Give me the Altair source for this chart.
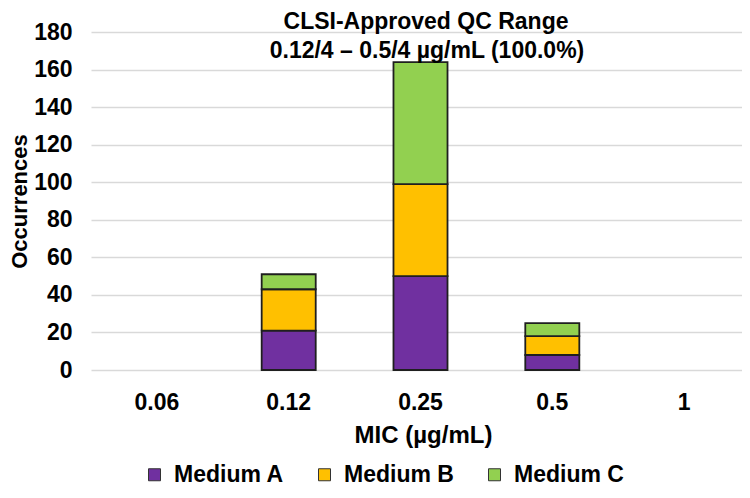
import altair as alt
import pandas as pd

mic = ["0.06", "0.12", "0.25", "0.5", "1"]
media = ["Medium A", "Medium B", "Medium C"]
medium_a = [0, 21, 50, 8, 0]
medium_b = [0, 22, 49, 10, 0]
medium_c = [0, 8, 65, 7, 0]
colors = ["#7030A0", "#FFC000", "#92D050"]
title_lines = ["CLSI-Approved QC Range", "0.12/4 – 0.5/4 µg/mL (100.0%)"]

rows = []
for i, (series, vals) in enumerate(zip(media, [medium_a, medium_b, medium_c])):
    for m, v in zip(mic, vals):
        if v > 0:
            rows.append({"MIC": m, "Medium": series, "Count": v, "order": i})
df = pd.DataFrame(rows)

FONT = "Liberation Sans"

bars = alt.Chart(df).mark_bar(stroke="#1f1f1f", strokeWidth=1.8).encode(
    x=alt.X(
        "MIC:N",
        sort=mic,
        scale=alt.Scale(domain=mic, range=[0, 659], paddingInner=0.59, paddingOuter=0.295),
        axis=alt.Axis(
            title="MIC (µg/mL)", labelAngle=0, grid=False, domain=False, ticks=False,
            labelPadding=21, labelFontSize=23, labelFontWeight="bold", labelFont=FONT,
            labelColor="#000000", titleFontSize=24, titleFontWeight="bold", titleFont=FONT,
            titleColor="#000000", titlePadding=9, titleX=332,
        ),
    ),
    y=alt.Y(
        "Count:Q",
        scale=alt.Scale(domain=[0, 180]),
        axis=alt.Axis(
            title="Occurrences", values=list(range(0, 181, 20)), grid=True,
            gridColor="#D9D9D9", gridWidth=1.6, domain=False, ticks=False,
            labelPadding=19, labelFontSize=23, labelFontWeight="bold", labelFont=FONT,
            labelColor="#000000", titleFontSize=22, titleFontWeight="bold", titleFont=FONT,
            titleColor="#000000", titlePadding=2,
        ),
    ),
    color=alt.Color(
        "Medium:N",
        scale=alt.Scale(domain=media, range=colors),
        legend=alt.Legend(
            title=None, orient="none", legendX=52, legendY=431, direction="horizontal",
            symbolType="square", symbolSize=144, symbolStrokeColor="#333333",
            symbolStrokeWidth=1, symbolOpacity=1, labelFontSize=23, labelFontWeight="bold",
            labelFont=FONT, labelColor="#000000", columnPadding=29, labelOffset=8,
        ),
    ),
    order=alt.Order("order:Q", sort="ascending"),
)

title_df = pd.DataFrame({"line": title_lines})

title1 = alt.Chart(title_df).transform_filter(
    alt.datum.line == title_lines[0]
).mark_text(
    font=FONT, fontSize=23, fontWeight="bold", color="#000000",
    align="center", baseline="alphabetic",
).encode(text="line:N", x=alt.value(335), y=alt.value(-3))

title2 = alt.Chart(title_df).transform_filter(
    alt.datum.line == title_lines[1]
).mark_text(
    font=FONT, fontSize=23, fontWeight="bold", color="#000000",
    align="center", baseline="alphabetic",
).encode(text="line:N", x=alt.value(336), y=alt.value(26))

chart = alt.layer(bars, title1, title2).properties(
    width=651,
    height=338,
    padding={"left": 83, "top": 24, "right": 0, "bottom": 120},
    autosize=alt.AutoSizeParams(type="none"),
).configure_view(stroke=None)

chart.save("out.html", embed_options={"renderer": "svg", "actions": False})
